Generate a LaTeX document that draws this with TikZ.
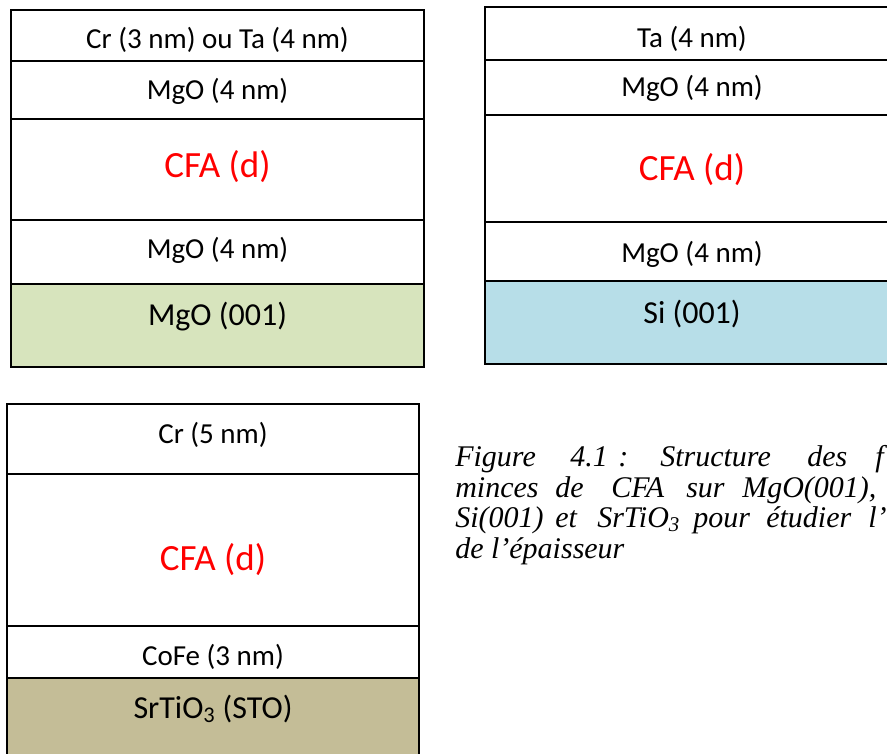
\documentclass[tikz,border=0pt]{standalone}
\usepackage{fontspec}
\setmainfont{Liberation Serif}
\newfontfamily\calib{Carlito}
\definecolor{mgosub}{HTML}{D7E4BD}
\definecolor{sisub}{HTML}{B7DEE8}
\definecolor{stosub}{HTML}{C4BD97}
\definecolor{cfared}{HTML}{FF0000}
\begin{document}
\begin{tikzpicture}[x=0.75pt,y=-0.75pt,
  layerline/.style={draw=black,line width=1.4pt},
  lab/.style={anchor=base,inner sep=0pt,font=\calib\fontsize{21.75}{26}\selectfont},
  sublab/.style={anchor=base,inner sep=0pt,font=\calib\fontsize{24}{28}\selectfont},
  cfalab/.style={anchor=base,inner sep=0pt,text=cfared,font=\calib\fontsize{27.75}{32}\selectfont},
  captxt/.style={anchor=base west,inner sep=0pt,font=\itshape\fontsize{22.5}{27}\selectfont}]
\useasboundingbox (0,0) rectangle (887,753);
\fill[white] (0,0) rectangle (887,753);
\begin{scope}
\clip (0,0) rectangle (887,753);
% ---------- stack 1 ----------
\fill[mgosub] (11,284) rectangle (424,367);
\draw[layerline] (11,10) rectangle (424,367);
\draw[layerline] (11,61) -- (424,61);
\draw[layerline] (11,119) -- (424,119);
\draw[layerline] (11,220) -- (424,220);
\draw[layerline] (11,284) -- (424,284);
\node[lab] (a1) at (217.5,48) {Cr (3 nm) ou Ta (4 nm)};
\node[lab] (a2) at (217.5,99) {MgO (4 nm)};
\node[cfalab] (a3) at (217.5,177) {CFA (d)};
\node[lab] (a4) at (217.5,258) {MgO (4 nm)};
\node[sublab] (a5) at (217.5,325) {MgO (001)};
% ---------- stack 2 ----------
\fill[sisub] (485,281) rectangle (899,364);
\draw[layerline] (485,7) rectangle (899,364);
\draw[layerline] (485,60) -- (899,60);
\draw[layerline] (485,115) -- (899,115);
\draw[layerline] (485,222) -- (899,222);
\draw[layerline] (485,281) -- (899,281);
\node[lab] (b1) at (692,47) {Ta (4 nm)};
\node[lab] (b2) at (692,96) {MgO (4 nm)};
\node[cfalab] (b3) at (692,180) {CFA (d)};
\node[lab] (b4) at (692,262) {MgO (4 nm)};
\node[sublab] (b5) at (692,323) {Si (001)};
% ---------- stack 3 ----------
\fill[stosub] (7,678) rectangle (419,790);
\draw[layerline] (7,404) rectangle (419,790);
\draw[layerline] (7,474) -- (419,474);
\draw[layerline] (7,626) -- (419,626);
\draw[layerline] (7,678) -- (419,678);
\node[lab] (c1) at (213,443) {Cr (5 nm)};
\node[cfalab] (c2) at (213,570) {CFA (d)};
\node[lab] (c3) at (213,665) {CoFe (3 nm)};
\node[sublab] (c4) at (213,718) {SrTiO\textsubscript{3} (STO)};
% ---------- caption ----------
\node[captxt] (l1a) at (455,466) {Figure};
\node[captxt] (l1b) at (570,466) {4.1};
\node[captxt] (l1c) at (618,466) {:};
\node[captxt] (l1d) at (660,466) {Structure};
\node[captxt] (l1e) at (807,466) {des};
\node[captxt] (l1f) at (875,466) {f};
\node[captxt] (l2a) at (455,497) {minces};
\node[captxt] (l2b) at (555,497) {de};
\node[captxt] (l2c) at (611,497) {CFA};
\node[captxt] (l2d) at (686,497) {sur};
\node[captxt] (l2e) at (742,497) {MgO(001),};
\node[captxt] (l3a) at (455,527.5) {Si(001)};
\node[captxt] (l3b) at (555,527.5) {et};
\node[captxt] (l3c) at (597,527.5) {SrTiO\textsubscript{3}};
\node[captxt] (l3d) at (693,527.5) {pour};
\node[captxt] (l3e) at (766,527.5) {étudier};
\node[captxt] (l3f) at (868,527.5) {l’};
\node[captxt] (l4a) at (455,558) {de l’épaisseur};
\end{scope}
\end{tikzpicture}
\end{document}
